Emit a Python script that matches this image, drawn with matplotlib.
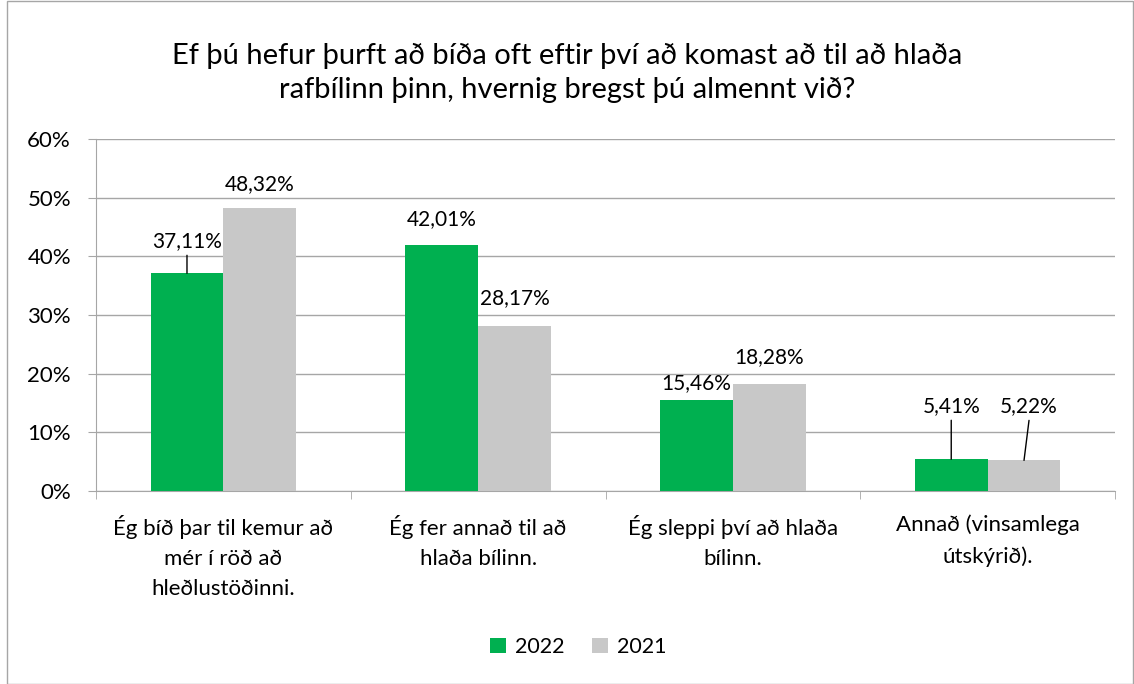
import numpy as np
import matplotlib
matplotlib.use("Agg")
import matplotlib.pyplot as plt
from matplotlib.patches import Rectangle

plt.rcParams['font.family'] = ['Lato', 'DejaVu Sans']

# =========================
# DATA
# =========================

categories = [
    "Ég bíð þar til kemur að\nmér í röð að\nhleðlustöðinni.",
    "Ég fer annað til að\nhlaða bílinn.",
    "Ég sleppi því að hlaða\nbílinn.",
    "Annað (vinsamlega\nútskýrið).",
]
values_2022 = [37.11, 42.01, 15.46, 5.41]
values_2021 = [48.32, 28.17, 18.28, 5.22]
series_names = ["2022", "2021"]
title = "Ef þú hefur þurft að bíða oft eftir því að komast að til að hlaða\nrafbílinn þinn, hvernig bregst þú almennt við?"

# label offsets in pixels (dx, dy above bar top) and leader line flags
offsets_2022 = [(0, 32, True), (0, 25, False), (0, 17, False), (0, 53, True)]
offsets_2021 = [(0, 23, False), (0, 28, False), (0, 27, False), (5, 54, True)]

GREEN = "#00B050"
GRAY = "#C8C8C8"
GRID = "#A6A6A6"

# =========================
# PLOT
# =========================

fig = plt.figure(figsize=(11.34, 6.84), dpi=100)
ax = fig.add_axes([96 / 1134, 1 - 491 / 684, (1115 - 96) / 1134, (491 - 139) / 684])

x = np.arange(len(categories))
w = 1 / 3.5
bars1 = ax.bar(x - w / 2, values_2022, w, color=GREEN, label=series_names[0], zorder=3)
bars2 = ax.bar(x + w / 2, values_2021, w, color=GRAY, label=series_names[1], zorder=3)

ax.set_xlim(-0.5, len(categories) - 0.5)
ax.set_ylim(0, 60)
ax.set_yticks(np.arange(0, 61, 10))
ax.set_yticklabels([f"{v}%" for v in range(0, 61, 10)], fontsize=16)
ax.grid(axis='y', color=GRID, linewidth=1, zorder=0)

ax.set_xticks(x)
ax.set_xticklabels(categories, fontsize=16, linespacing=1.65, va='top')
ax.tick_params(axis='x', which='major', length=0, pad=17)
ax.set_xticks(np.arange(-0.5, len(categories), 1), minor=True)
ax.tick_params(axis='x', which='minor', length=6, color=GRID, direction='out')
ax.tick_params(axis='y', length=6, color=GRID, direction='out', pad=12)

for s in ['top', 'right']:
    ax.spines[s].set_visible(False)
for s in ['left', 'bottom']:
    ax.spines[s].set_color(GRID)

def label_bars(bars, vals, offs):
    for b, v, (dx, dy, leader) in zip(bars, vals, offs):
        cx = b.get_x() + b.get_width() / 2
        top = b.get_height()
        txt = f"{v:.2f}%".replace(".", ",")
        # pixels -> points
        ax.annotate(txt, xy=(cx, top), xytext=(dx * 0.72, dy * 0.72),
                    textcoords='offset points', ha='center', va='center',
                    fontsize=15, zorder=5)
        if leader:
            ax.annotate("", xy=(cx, top), xytext=(dx * 0.72, (dy - 14) * 0.72),
                        textcoords='offset points',
                        arrowprops=dict(arrowstyle='-', color='black', lw=1,
                                        shrinkA=0, shrinkB=0), zorder=5)

label_bars(bars1, values_2022, offsets_2022)
label_bars(bars2, values_2021, offsets_2021)

fig.text(0.5, 1 - 73 / 684, title, ha='center', va='center', fontsize=21,
         linespacing=1.38)

fig.legend(handles=[bars1, bars2], labels=series_names, loc='center',
           bbox_to_anchor=(578 / 1134, 1 - 647 / 684), ncol=2, frameon=False,
           fontsize=15.5, handlelength=0.75, handleheight=0.75, handletextpad=0.4,
           columnspacing=1.3)

fig.patches.append(Rectangle((7 / 1134, 0), 1 - 8 / 1134, 1 - 1 / 684,
                             transform=fig.transFigure, fill=False,
                             edgecolor=GRID, linewidth=1))

fig.savefig("out.png", dpi=100)
